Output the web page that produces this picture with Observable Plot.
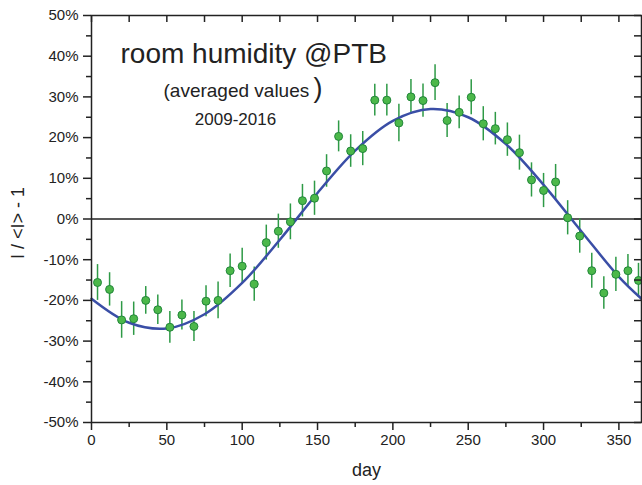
<!DOCTYPE html>
<html><head><meta charset="utf-8">
<script src="https://cdn.jsdelivr.net/npm/d3@7"></script>
<script src="https://cdn.jsdelivr.net/npm/@observablehq/plot@0.6"></script>
<style>body{margin:0;background:#fff} svg{display:block}</style>
</head><body><div id="chart"></div>
<script>
const days = [4,12,20,28,36,44,52,60,68,76,84,92,100,108,116,124,132,140,148,156,164,172,180,188,196,204,212,220,228,236,244,252,260,268,276,284,292,300,308,316,324,332,340,348,356,363];
const values = [-15.6,-17.3,-24.8,-24.5,-20.0,-22.3,-26.6,-23.6,-26.4,-20.2,-20.0,-12.7,-11.6,-16.0,-5.8,-3.0,-0.7,4.5,5.1,11.8,20.3,16.7,17.3,29.2,29.2,23.6,30.0,29.1,33.5,24.2,26.2,29.9,23.4,22.2,19.5,16.3,9.6,7.0,9.1,0.3,-4.2,-12.7,-18.2,-13.6,-12.7,-15.1];
const errors = [4.4,4.1,4.5,4.1,3.4,3.6,3.9,3.7,3.7,3.8,4.5,4.1,4.4,4.2,4.3,4.2,4.4,4.0,4.2,4.0,3.8,4.0,4.2,3.9,3.9,4.6,4.3,4.1,4.4,4.2,4.0,4.3,4.2,4.0,4.1,4.3,4.2,4.2,4.3,4.2,4.2,4.3,4.0,4.2,4.0,4.2];
const fitDays = [0,25,50,75,100,125,150,175,200,225,250,275,300,325,350,365];
const fitValues = [-19.6,-25.5,-26.9,-23.4,-15.7,-5.1,6.4,16.8,24.1,27.0,25.0,18.4,8.4,-3.0,-14.2,-19.6];
const xMajorTicks = [0,50,100,150,200,250,300,350];
const xMinorTicks = [25,75,125,175,225,275,325];
const yMajorTicks = [-50,-40,-30,-20,-10,0,10,20,30,40,50];
const yMinorTicks = [-45,-35,-25,-15,-5,5,15,25,35,45];
const titleText = "room humidity @PTB";
const subtitleText = "(averaged values";
const subtitleParen = ")";
const yearsText = "2009-2016";
const xLabel = "day";
const yLabel = "I / <I> - 1";

const points = days.map((d, i) => ({day: d, value: values[i], err: errors[i]}));
const fit = fitDays.map((d, i) => ({day: d, value: fitValues[i]}));

const ink = "#222";
const chart = Plot.plot({
  width: 642, height: 485,
  marginLeft: 91, marginRight: 1, marginTop: 15, marginBottom: 63,
  style: {fontFamily: "'Liberation Sans', Arial, sans-serif", fontSize: "15px", color: ink, background: "#fff", overflow: "visible"},
  x: {domain: [0, 365]},
  y: {domain: [-50, 50]},
  marks: [
    Plot.ruleY([0], {stroke: ink, strokeWidth: 1.5}),
    Plot.ruleX(points, {x: "day", y1: d => d.value - d.err, y2: d => d.value + d.err, stroke: "#2e9a46", strokeWidth: 1.5}),
    Plot.line(fit, {x: "day", y: "value", curve: "catmull-rom", stroke: "#3a4ea6", strokeWidth: 2.5}),
    Plot.dot(points, {x: "day", y: "value", r: 4, fill: "#4cb84a", stroke: "#21863a", strokeWidth: 1}),
    Plot.axisX(xMajorTicks, {tickSize: 8, tickPadding: 4, fontSize: 15, label: null, strokeWidth: 1.5}),
    Plot.axisX(xMinorTicks, {tickSize: 5, tickFormat: () => "", label: null, strokeWidth: 1.5}),
    Plot.axisY(yMajorTicks, {tickSize: 8, tickPadding: 5, fontSize: 15, tickFormat: d => d + "%", label: null, strokeWidth: 1.5}),
    Plot.axisY(yMinorTicks, {tickSize: 5, tickFormat: () => "", label: null, strokeWidth: 1.5}),
    Plot.ruleX(xMajorTicks.concat(xMinorTicks), {insetBottom: 400, stroke: ink, strokeWidth: 1.5}),
    Plot.ruleY(yMajorTicks.concat(yMinorTicks), {insetLeft: 543, stroke: ink, strokeWidth: 1.5}),
    Plot.frame({stroke: ink, strokeWidth: 1.5}),
    Plot.text([titleText], {frameAnchor: "top-left", textAnchor: "start", lineAnchor: "bottom", dx: 29, dy: 47, fontSize: 28, fill: ink}),
    Plot.text([subtitleText], {frameAnchor: "top-left", textAnchor: "start", lineAnchor: "bottom", dx: 72, dy: 81, fontSize: 19, fill: ink}),
    Plot.text([subtitleParen], {frameAnchor: "top-left", textAnchor: "start", lineAnchor: "bottom", dx: 222, dy: 81, fontSize: 27, fill: ink}),
    Plot.text([yearsText], {frameAnchor: "top-left", textAnchor: "middle", lineAnchor: "bottom", dx: 144, dy: 109, fontSize: 17, fill: ink}),
    Plot.text([xLabel], {frameAnchor: "bottom", lineAnchor: "middle", dy: 48, fontSize: 18, fill: ink}),
    Plot.text([yLabel], {frameAnchor: "left", textAnchor: "middle", lineAnchor: "middle", rotate: -90, dx: -73, dy: 4, fontSize: 18, fill: ink})
  ]
});
document.getElementById("chart").appendChild(chart);
</script>
</body></html>
